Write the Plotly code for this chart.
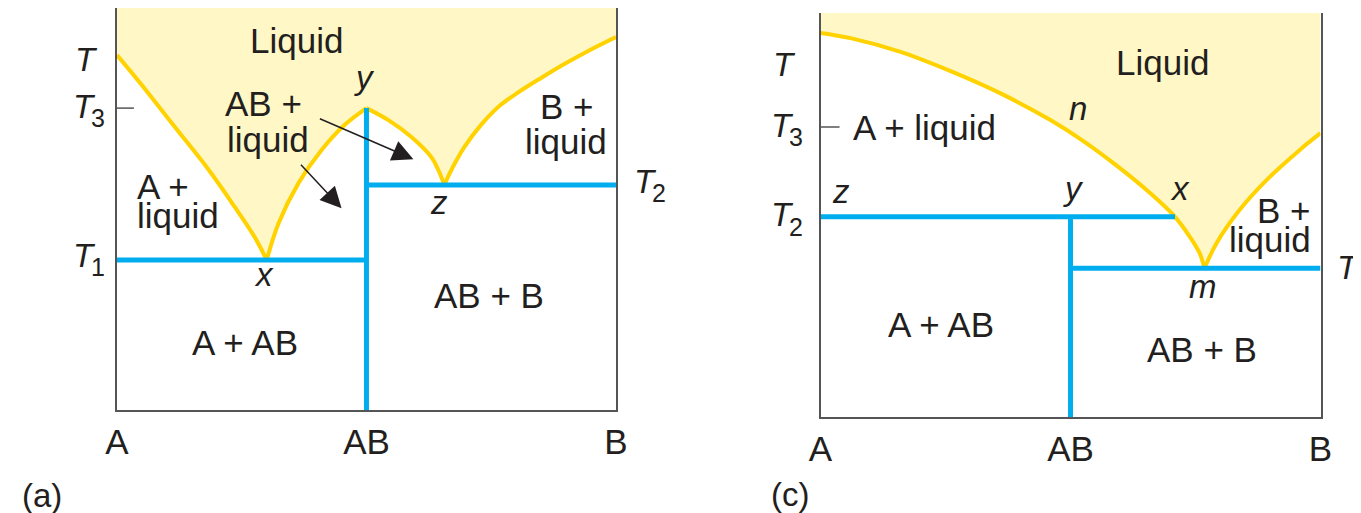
import plotly.graph_objects as go

# ---- panel (a): congruently melting compound AB ----
# composition: A = 0, AB = 0.5, B = 1 ; temperature in arbitrary units (0-100)
a_liq_A_x = [0.0, 0.05, 0.116, 0.184, 0.236, 0.276, 0.30]
a_liq_A_t = [88.3, 80.8, 70.4, 59.7, 50.5, 43.0, 37.3]
a_liq_ABl_x = [0.30, 0.324, 0.364, 0.41, 0.456, 0.50]
a_liq_ABl_t = [37.3, 46.5, 56.5, 64.7, 70.9, 75.1]
a_liq_ABr_x = [0.50, 0.544, 0.59, 0.63, 0.644, 0.656]
a_liq_ABr_t = [75.1, 72.1, 67.9, 62.9, 59.7, 56.0]
a_liq_B_x = [0.656, 0.67, 0.696, 0.73, 0.764, 0.804, 0.85, 0.90, 0.95, 1.0]
a_liq_B_t = [56.0, 59.7, 65.4, 71.0, 75.4, 79.0, 82.6, 86.3, 89.7, 92.8]
a_T, a_T1, a_T2, a_T3 = 87.1, 37.3, 56.0, 75.1

# ---- panel (c): incongruently melting compound AB ----
c_liq_A_x = [0.0, 0.06, 0.16, 0.259, 0.359, 0.459, 0.525, 0.593, 0.659, 0.709, 0.739, 0.758, 0.768]
c_liq_A_t = [95.0, 93.7, 90.3, 85.6, 80.1, 73.5, 68.3, 62.1, 55.4, 49.5, 44.5, 40.6, 36.8]
c_liq_B_x = [0.768, 0.792, 0.838, 0.892, 0.958, 1.0]
c_liq_B_t = [36.8, 43.0, 51.2, 58.6, 66.0, 70.2]
c_T, c_T1, c_T2, c_T3 = 87.1, 36.8, 49.5, 71.7
c_peritectic_x = 0.709

comp_ticks = [0, 0.5, 1]
comp_labels = ["A", "AB", "B"]

FILL = "#FFF8C6"
GOLD = "#FFD200"
BLUE = "#00AEEF"
BOX = "#555555"
INK = "#231F20"
FONT = "Liberation Sans, Arial, sans-serif"

W, H = 1361, 513
# the page shows the figure slightly shifted/squeezed; map picture pixels to paper
SX, OX, OY = 0.9844, 17.8, 8


def px(x):
    return (x - OX) / SX / W


def py(y):
    return 1 - (y - OY) / H


fig = go.Figure()


def curve(x, y, ax, color, width, shape="spline"):
    fig.add_trace(go.Scatter(x=x, y=y, mode="lines", xaxis=ax[0], yaxis=ax[1],
                             line=dict(color=color, width=width, shape=shape),
                             hoverinfo="skip"))


def liquid_region(xs, ts, ax):
    # liquid area = above the liquidus, up to the top of the frame
    fig.add_trace(go.Scatter(x=xs + [1, 0], y=ts + [100, 100], mode="lines",
                             fill="toself", fillcolor=FILL, line=dict(width=0),
                             xaxis=ax[0], yaxis=ax[1], hoverinfo="skip"))


# panel (a)
axa = ("x", "y")
liquid_region(a_liq_A_x + a_liq_ABl_x[1:] + a_liq_ABr_x[1:] + a_liq_B_x[1:],
              a_liq_A_t + a_liq_ABl_t[1:] + a_liq_ABr_t[1:] + a_liq_B_t[1:], axa)
for xs, ts in [(a_liq_A_x, a_liq_A_t), (a_liq_ABl_x, a_liq_ABl_t),
               (a_liq_ABr_x, a_liq_ABr_t), (a_liq_B_x, a_liq_B_t)]:
    curve(xs, ts, axa, GOLD, 4)
curve([0, 0.5], [a_T1, a_T1], axa, BLUE, 5, "linear")
curve([0.5, 0.5], [0, a_T3], axa, BLUE, 5, "linear")
curve([0.5, 1], [a_T2, a_T2], axa, BLUE, 5, "linear")
curve([0, 0.034], [a_T3, a_T3], axa, BOX, 1.5, "linear")

# panel (c)
axc = ("x2", "y2")
liquid_region(c_liq_A_x + c_liq_B_x[1:], c_liq_A_t + c_liq_B_t[1:], axc)
curve(c_liq_A_x, c_liq_A_t, axc, GOLD, 4)
curve(c_liq_B_x, c_liq_B_t, axc, GOLD, 4)
curve([0, c_peritectic_x], [c_T2, c_T2], axc, BLUE, 5, "linear")
curve([0.5, 0.5], [0, c_T2], axc, BLUE, 5, "linear")
curve([0.5, 1], [c_T1, c_T1], axc, BLUE, 5, "linear")
curve([0, 0.038], [c_T3, c_T3], axc, BOX, 1.5, "linear")

ann = []


def label(text, x, y, ref, size=35, anchor="center", italic=False):
    if italic:
        text = "<i>" + text + "</i>"
    ann.append(dict(text=text, x=x, y=y, xref=ref[0], yref=ref[1],
                    xanchor=anchor, yanchor="middle", showarrow=False,
                    font=dict(family=FONT, size=size, color=INK)))


def t_label(sub, x_pix, t, yref):
    # italic T with a large subscript digit, as in the textbook figure
    label("T", px(x_pix), t, ("paper", yref), size=33, anchor="left", italic=True)
    if sub:
        label(sub, px(x_pix + 18), t - 2.9, ("paper", yref), size=25, anchor="left")


def arrow(x, y, ax, ay, ref):
    ann.append(dict(text="", x=x, y=y, ax=ax, ay=ay, xref=ref[0], yref=ref[1],
                    showarrow=True, arrowhead=2, arrowsize=2.8, arrowwidth=1.5,
                    arrowcolor=INK))


# panel (a) labels
label("Liquid", 0.36, 92.0, axa)
label("AB +", 0.294, 76.2, axa)
label("liquid", 0.302, 67.2, axa)
label("A +", 0.036, 55.5, axa, anchor="left")
label("liquid", 0.036, 48.3, axa, anchor="left")
label("B +", 0.902, 75.6, axa)
label("liquid", 0.90, 66.7, axa)
label("A + AB", 0.256, 16.7, axa)
label("AB + B", 0.746, 28.4, axa)
label("y", 0.496, 82.6, axa, size=33, italic=True)
label("x", 0.294, 33.8, axa, size=33, italic=True)
label("z", 0.646, 51.7, axa, size=33, italic=True)
t_label("", 71, a_T, "y")
t_label("3", 69, a_T3 + 0.4, "y")
t_label("1", 69, a_T1 + 1.2, "y")
t_label("2", 631, a_T2 + 0.8, "y")
arrow(0.45, 50.2, -42, -45, axa)
arrow(0.594, 62.4, -95, -41, axa)

# panel (c) labels
label("Liquid", 0.683, 87.6, axc)
label("A + liquid", 0.06, 71.7, axc, anchor="left")
label("n", 0.515, 76.2, axc, size=33, italic=True)
label("z", 0.04, 55.9, axc, size=33, italic=True)
label("y", 0.505, 56.4, axc, size=33, italic=True)
label("x", 0.719, 56.4, axc, size=33, italic=True)
label("m", 0.764, 32.4, axc, size=33, italic=True)
label("B +", 0.984, 51.2, axc, anchor="right")
label("liquid", 0.984, 43.8, axc, anchor="right")
label("A + AB", 0.24, 22.8, axc)
label("AB + B", 0.762, 16.6, axc)
t_label("", 770, c_T, "y2")
t_label("3", 768, c_T3 + 0.5, "y2")
t_label("2", 768, c_T2 + 0.5, "y2")
t_label("1", 1336, c_T1 + 0.3, "y2")

# panel tags
label("(a)", max(px(9), 0), py(495), ("paper", "paper"), size=33, anchor="left")
label("(c)", px(768), py(494), ("paper", "paper"), size=33, anchor="left")

xaxis_style = dict(range=[0, 1], tickvals=comp_ticks, ticktext=comp_labels,
                   showgrid=False, zeroline=False, showline=True, linecolor=BOX,
                   linewidth=2, ticks="",
                   tickfont=dict(family=FONT, size=35, color=INK), fixedrange=True)
yaxis_style = dict(range=[0, 100], showticklabels=False, showgrid=False,
                   zeroline=False, showline=True, mirror=True, linecolor=BOX,
                   linewidth=2, ticks="", fixedrange=True)

fig.update_layout(
    width=W, height=H,
    margin=dict(l=0, r=0, t=0, b=0),
    paper_bgcolor="white", plot_bgcolor="white",
    showlegend=False, hovermode=False,
    xaxis=dict(domain=[px(115), px(615)], anchor="y", **xaxis_style),
    yaxis=dict(domain=[py(410), py(8)], anchor="x", **yaxis_style),
    xaxis2=dict(domain=[px(820), px(1321)], anchor="y2", **xaxis_style),
    yaxis2=dict(domain=[py(417), py(12.7)], anchor="x2", **yaxis_style),
    annotations=ann,
)

fig.write_html("out.html")
